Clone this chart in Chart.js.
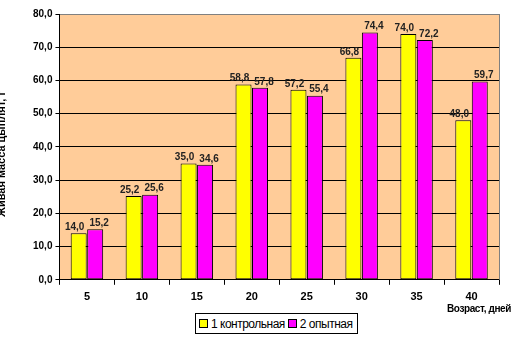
<!DOCTYPE html>
<html>
<head>
<meta charset="utf-8">
<script src="https://cdn.jsdelivr.net/npm/chart.js@4.4.1/dist/chart.umd.min.js"></script>
<style>
  html, body { margin: 0; padding: 0; background: #fff; }
  #wrap { position: relative; width: 524px; height: 348px; }
  canvas { position: absolute; left: 0; top: 0; }
  #legend { position: absolute; left: 195px; top: 313px; height: 19px; border: 1px solid #000; background:#fff;
    font-family: "Liberation Sans", Arial, sans-serif; font-size: 12px; color: #000; display: flex; align-items: center; padding: 0 2px 0 3px; white-space: nowrap; }
  .sw { display: inline-block; width: 7px; height: 7px; border: 1px solid #000; margin-right: 3px; }
  .it { display: inline-flex; align-items: center; margin-right: 3px; letter-spacing: -0.5px; }
  #xtitle { position: absolute; left: 447px; top: 303px; font-family: "Liberation Sans", Arial, sans-serif; font-size: 10px; font-weight: bold; letter-spacing: -0.4px; color: #000; }
</style>
</head>
<body>
<div id="wrap">
  <canvas id="c" width="524" height="348"></canvas>
  <div id="legend"></div>
  <div id="xtitle">Возраст, дней</div>
</div>
<script>
const categories = ["5", "10", "15", "20", "25", "30", "35", "40"];
const series1Name = "1 контрольная";
const series2Name = "2 опытная";
const series1 = [14.0, 25.2, 35.0, 58.8, 57.2, 66.8, 74.0, 48.0];
const series2 = [15.2, 25.6, 34.6, 57.8, 55.4, 74.4, 72.2, 59.7];
const yTicks = [0, 10, 20, 30, 40, 50, 60, 70, 80];
const yTitle = "Живая масса цыплят, г";
const colors = ["#FFFF00", "#FF00FF"];

const fmt = v => v.toFixed(1).replace('.', ',');

document.getElementById('legend').innerHTML =
  `<span class="it"><span class="sw" style="background:${colors[0]}"></span>${series1Name}</span>` +
  `<span class="it"><span class="sw" style="background:${colors[1]}"></span>${series2Name}</span>`;

const bgPlugin = {
  id: 'bg',
  beforeDraw(chart) {
    const { ctx, chartArea: a } = chart;
    ctx.save();
    ctx.fillStyle = '#FFCC99';
    ctx.fillRect(a.left, a.top, a.right - a.left, a.bottom - a.top);
    ctx.restore();
  },
  afterDraw(chart) {
    const { ctx, chartArea: a } = chart;
    ctx.save();
    ctx.strokeStyle = '#808080';
    ctx.lineWidth = 1;
    ctx.beginPath();
    ctx.moveTo(Math.round(a.right) + 0.5, a.top);
    ctx.lineTo(Math.round(a.right) + 0.5, a.bottom);
    ctx.stroke();
    ctx.translate(2, 154);
    ctx.rotate(-Math.PI / 2);
    ctx.font = 'bold 11px "Liberation Sans", Arial, sans-serif';
    ctx.fillStyle = '#000';
    ctx.textAlign = 'center';
    ctx.textBaseline = 'middle';
    ctx.fillText(yTitle, 0, 0);
    ctx.restore();
  }
};

const labelPlugin = {
  id: 'vals',
  afterDatasetsDraw(chart) {
    const { ctx } = chart;
    ctx.save();
    ctx.font = 'bold 10px "Liberation Sans", Arial, sans-serif';
    ctx.fillStyle = '#222';
    ctx.textAlign = 'center';
    ctx.textBaseline = 'bottom';
    chart.data.datasets.forEach((ds, i) => {
      chart.getDatasetMeta(i).data.forEach((bar, j) => {
        ctx.fillText(fmt(ds.data[j]), bar.x - (i === 0 ? 4 : -4), bar.y - 1);
      });
    });
    ctx.restore();
  }
};

new Chart(document.getElementById('c'), {
  type: 'bar',
  data: {
    labels: categories,
    datasets: [
      { label: series1Name, data: series1, backgroundColor: colors[0], borderColor: '#000', borderWidth: 1, borderSkipped: false },
      { label: series2Name, data: series2, backgroundColor: colors[1], borderColor: '#000', borderWidth: 1, borderSkipped: false }
    ]
  },
  options: {
    responsive: false,
    animation: false,
    devicePixelRatio: 1,
    layout: { padding: { left: 30, right: 25, top: 14, bottom: 38 } },
    plugins: { legend: { display: false }, tooltip: { enabled: false } },
    datasets: { bar: { categoryPercentage: 0.6, barPercentage: 0.97 } },
    scales: {
      x: {
        grid: { drawOnChartArea: false, drawTicks: true, tickLength: 5, color: '#000', offset: true },
        border: { color: '#000' },
        ticks: { color: '#000', font: { family: '"Liberation Sans", Arial, sans-serif', size: 11, weight: 'bold' }, padding: 6 }
      },
      y: {
        min: 0, max: 80,
        afterBuildTicks(scale) { scale.ticks = yTicks.map(v => ({ value: v })); },
        grid: { color: ctx => (ctx.tick && ctx.tick.value === 80) ? '#808080' : '#000', tickLength: 4, tickColor: '#000' },
        border: { color: '#000' },
        ticks: { color: '#000', font: { family: '"Liberation Sans", Arial, sans-serif', size: 10, weight: 'bold' }, padding: 3, callback: v => fmt(v) }
      }
    }
  },
  plugins: [bgPlugin, labelPlugin]
});
</script>
</body>
</html>
